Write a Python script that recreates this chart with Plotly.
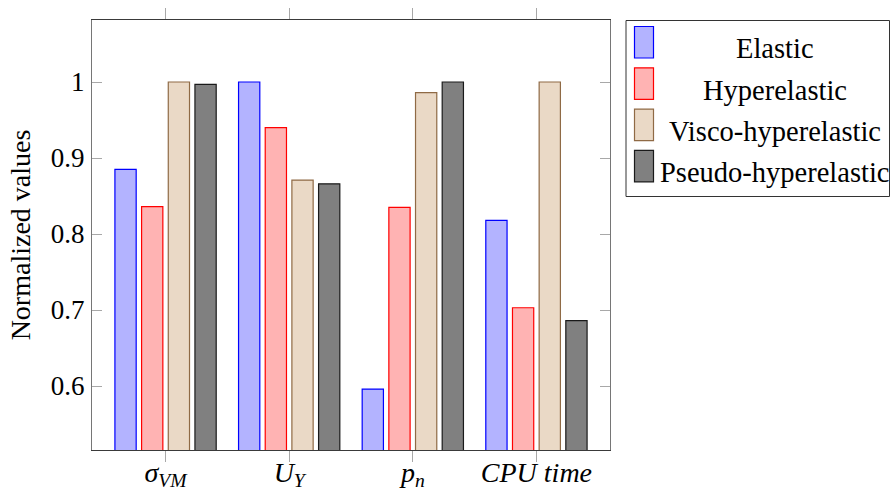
import plotly.graph_objects as go

# Metrics compared across the four material models
categories = ["<i>σ</i><sub><i>VM</i></sub>", "<i>U</i><sub><i>Y</i></sub>",
              "<i>p</i><sub><i>n</i></sub>", "<i>CPU time</i>"]
series_names = ["Elastic", "Hyperelastic", "Visco-hyperelastic", "Pseudo-hyperelastic"]
elastic = [0.885, 1.000, 0.596, 0.818]
hyperelastic = [0.836, 0.940, 0.835, 0.703]
visco_hyperelastic = [1.000, 0.871, 0.986, 1.000]
pseudo_hyperelastic = [0.997, 0.866, 1.000, 0.686]
y_tick_values = [0.6, 0.7, 0.8, 0.9, 1.0]
y_tick_labels = ["0.6", "0.7", "0.8", "0.9", "1"]

series_values = [elastic, hyperelastic, visco_hyperelastic, pseudo_hyperelastic]
fills = ["#b3b3ff", "#ffb3b3", "#ead9c6", "#808080"]
strokes = ["#0000ff", "#ff0000", "#8f6a45", "#1a1a1a"]

W, H = 890, 492
ML, MR, MT, MB = 92, 280, 20, 42
PW, PH = W - ML - MR, H - MT - MB
FONT = "Liberation Serif, DejaVu Serif, serif"


def px_x(x):
    return (x - ML) / PW


def px_y(y):
    return (H - MB - y) / PH


fig = go.Figure()
for name, vals, fc, lc in zip(series_names, series_values, fills, strokes):
    fig.add_trace(go.Bar(
        x=categories, y=vals, name=name,
        marker=dict(color=fc, line=dict(color=lc, width=1.2)),
        showlegend=False,
    ))

# Legend drawn as a framed box with tall swatches and centred labels
shapes = [dict(type="rect", xref="paper", yref="paper",
               x0=px_x(626), x1=px_x(889.5), y0=px_y(196.5), y1=px_y(20.5),
               line=dict(color="#333333", width=1), fillcolor="white")]
annotations = []
for i, (name, fc, lc) in enumerate(zip(series_names, fills, strokes)):
    top = 26.5 + i * 41.3
    shapes.append(dict(type="rect", xref="paper", yref="paper",
                       x0=px_x(634.5), x1=px_x(653.5), y0=px_y(top + 31.5), y1=px_y(top),
                       line=dict(color=lc, width=1.2), fillcolor=fc))
    annotations.append(dict(xref="paper", yref="paper", x=px_x(774.5), y=px_y(top + 22.5),
                            text=name, showarrow=False, xanchor="center", yanchor="middle",
                            font=dict(family=FONT, size=28.5, color="black")))

fig.update_layout(
    width=W, height=H,
    margin=dict(l=ML, r=MR, t=MT, b=MB),
    paper_bgcolor="white", plot_bgcolor="white",
    barmode="group", bargap=0.137, bargroupgap=0.203,
    font=dict(family=FONT, size=26, color="black"),
    shapes=shapes, annotations=annotations,
    showlegend=False,
)
fig.update_xaxes(
    range=[-0.595, 3.595], showgrid=False, zeroline=False,
    showline=True, linecolor="#3a3a3a", linewidth=1, mirror="ticks",
    ticks="outside", ticklen=11, tickcolor="#a8a8a8", tickwidth=1,
    tickfont=dict(family=FONT, size=28), automargin=False,
    ticklabelstandoff=-14,
)
fig.update_yaxes(
    range=[0.5158, 1.0816], showgrid=False, zeroline=False,
    showline=True, linecolor="#767676", linewidth=1, mirror="ticks",
    ticks="inside", ticklen=10, tickcolor="#a8a8a8", tickwidth=1,
    tickvals=y_tick_values, ticktext=y_tick_labels,
    tickfont=dict(family=FONT, size=27), automargin=False,
    ticklabelstandoff=1,
    title=dict(text="Normalized values", font=dict(family=FONT, size=28), standoff=12),
)

fig.write_html("out.html")
